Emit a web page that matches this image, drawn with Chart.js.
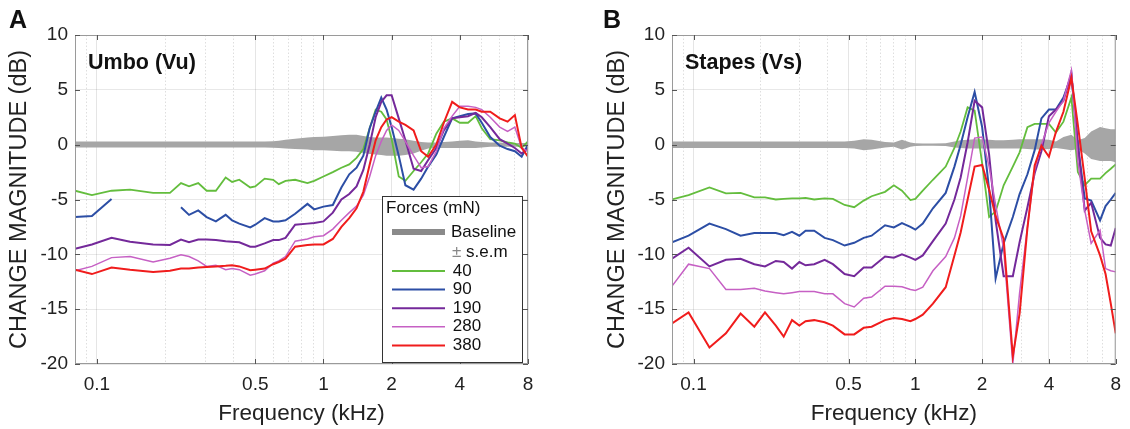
<!DOCTYPE html>
<html>
<head>
<meta charset="utf-8">
<script src="https://cdn.jsdelivr.net/npm/chart.js@4.4.1/dist/chart.umd.min.js"></script>
<style>
  html, body { margin: 0; padding: 0; background: #fff; }
  body { width: 1130px; height: 429px; position: relative; overflow: hidden; }
  .panel { position: absolute; top: 0; }
  #panelA { left: 0; }
  #panelB { left: 560px; }
</style>
</head>
<body>
<div class="panel" id="panelA"><canvas id="chartA" width="560" height="429"></canvas></div>
<div class="panel" id="panelB"><canvas id="chartB" width="570" height="429"></canvas></div>
<script>
// ---- data (kHz / dB) ----
const forceLabels = ['40', '90', '190', '280', '380'];
const freqTicks = [0.1, 0.5, 1, 2, 4, 8];
const freqGrid = [0.09, 0.1, 0.2, 0.3, 0.4, 0.5, 0.6, 0.7, 0.8, 0.9, 1, 2, 3, 4, 5, 6, 7, 8];
const dbTicks = [-20, -15, -10, -5, 0, 5, 10];

// Umbo (Vu)
const freqA = [0.08, 0.095, 0.116, 0.14, 0.177, 0.21, 0.235, 0.255, 0.28, 0.305, 0.335, 0.37, 0.395, 0.425, 0.475, 0.5, 0.55, 0.6, 0.635, 0.68, 0.75, 0.85, 0.91, 1.0, 1.1, 1.2, 1.3, 1.4, 1.5, 1.6, 1.7, 1.8, 1.9, 2.0, 2.15, 2.3, 2.5, 2.7, 2.9, 3.15, 3.4, 3.7, 4.0, 4.35, 4.7, 5.0, 5.45, 6.0, 6.5, 7.0, 7.5, 8.0];
const umbo40 = [-4.2, -4.6, -4.2, -4.1, -4.4, -4.4, -3.5, -3.8, -3.5, -4.2, -4.2, -3.0, -3.4, -3.2, -3.9, -3.8, -3.1, -3.2, -3.6, -3.3, -3.2, -3.5, -3.3, -2.9, -2.5, -2.1, -1.8, -1.2, -0.4, 1.5, 3.2, 3.0, 2.3, 0.5, -2.9, -3.3, -2.4, -1.6, -0.8, 1.0, 2.1, 2.4, 2.0, 2.0, 2.6, 1.5, 0.5, 0.4, 0.2, 0.1, -0.3, 0.3];
const umbo90 = [-6.6, -6.5, -4.95, null, null, null, -5.7, -6.4, -6.0, -6.6, -7.0, -6.4, -6.9, -7.2, -7.55, -7.3, -6.7, -7.0, -7.0, -6.9, -6.3, -5.4, -5.9, -5.65, -5.5, -3.9, -2.7, -2.1, -1.0, 1.5, 3.0, 4.3, 3.2, 1.6, -1.0, -3.7, -4.1, -3.1, -2.0, -0.9, 0.7, 2.4, 2.6, 2.8, 2.85, 2.0, 0.7, -0.1, -0.4, -0.6, -1.1, 0.0];
const umbo190 = [-9.5, -9.1, -8.5, -8.85, -9.1, -9.15, -8.65, -8.9, -8.65, -8.65, -8.7, -8.8, -8.85, -8.9, -9.3, -9.3, -9.0, -8.7, -8.7, -8.5, -7.3, -7.2, -7.15, -7.0, -6.2, -5.0, -4.5, -3.8, -2.3, 0.0, 2.5, 3.9, 4.5, 4.5, 2.4, 0.4, -2.2, -2.4, -1.4, -0.3, 1.3, 2.4, 2.5, 2.6, 2.9, 2.5, 1.6, 0.5, 0.1, -0.3, -0.8, -0.4];
const umbo280 = [-11.5, -11.1, -10.3, -10.2, -10.7, -10.35, -10.05, -10.2, -10.6, -11.1, -11.0, -11.4, -11.3, -11.4, -11.9, -11.8, -11.5, -10.8, -10.6, -10.2, -8.8, -8.6, -8.4, -8.3, -7.7, -6.9, -6.2, -5.6, -4.6, -2.9, -1.0, 0.3, 1.3, 1.8, 1.3, 0.3, -1.0, -2.1, -2.0, -0.6, 1.5, 2.6, 3.5, 3.5, 3.4, 3.2, 2.5, 1.6, 1.2, 1.6, -0.3, -0.6];
const umbo380 = [-11.4, -11.8, -11.2, -11.4, -11.6, -11.5, -11.3, -11.3, -11.2, -11.15, -11.1, -11.05, -11.0, -11.1, -11.45, -11.4, -11.3, -10.9, -10.7, -10.4, -9.3, -9.15, -9.1, -9.1, -8.6, -7.5, -6.7, -5.8, -4.3, -1.8, 0.4, 1.6, 2.3, 2.5, 2.1, 1.8, 1.3, -0.6, -1.1, 0.0, 2.0, 3.9, 3.4, 3.2, 3.2, 3.0, 3.0, 2.4, 2.1, 2.7, -0.3, -1.1];
const umboSemHi = [0.28, 0.28, 0.28, 0.28, 0.28, 0.28, 0.28, 0.28, 0.28, 0.28, 0.28, 0.28, 0.28, 0.28, 0.28, 0.28, 0.3, 0.32, 0.35, 0.45, 0.55, 0.65, 0.7, 0.72, 0.78, 0.85, 0.9, 0.9, 0.8, 0.7, 0.65, 0.65, 0.65, 0.6, 0.55, 0.5, 0.35, 0.25, 0.2, 0.2, 0.25, 0.3, 0.35, 0.4, 0.3, 0.25, 0.2, 0.2, 0.15, 0.15, 0.15, 0.15];
const umboSemLo = [-0.25, -0.25, -0.25, -0.25, -0.25, -0.25, -0.25, -0.25, -0.25, -0.25, -0.25, -0.25, -0.25, -0.25, -0.25, -0.25, -0.25, -0.28, -0.3, -0.35, -0.4, -0.45, -0.5, -0.5, -0.55, -0.6, -0.6, -0.65, -0.75, -0.85, -0.9, -0.95, -1.0, -1.0, -1.0, -0.95, -0.8, -0.55, -0.35, -0.3, -0.3, -0.3, -0.3, -0.3, -0.3, -0.25, -0.2, -0.2, -0.2, -0.2, -0.2, -0.2];

// Stapes (Vs)
const freqB = [0.08, 0.095, 0.118, 0.14, 0.163, 0.188, 0.21, 0.235, 0.255, 0.278, 0.3, 0.32, 0.35, 0.39, 0.425, 0.48, 0.53, 0.585, 0.635, 0.73, 0.8, 0.87, 0.95, 1.0, 1.08, 1.2, 1.37, 1.5, 1.6, 1.72, 1.85, 2.0, 2.15, 2.3, 2.5, 2.75, 2.95, 3.2, 3.45, 3.7, 4.0, 4.3, 4.65, 5.05, 5.4, 5.8, 6.2, 6.8, 7.2, 7.6, 8.0];
const stapes40 = [-5.0, -4.6, -3.9, -4.45, -4.4, -4.8, -4.8, -5.0, -4.95, -4.9, -4.9, -4.85, -5.0, -4.9, -4.95, -5.5, -5.7, -5.1, -4.7, -4.3, -3.7, -4.2, -5.05, -4.95, -4.2, -3.2, -2.0, -0.3, 1.2, 3.4, 3.1, -1.7, -6.6, -6.1, -3.7, -2.0, -0.7, 1.6, 1.9, 1.9, 1.9, 1.1, 2.1, 4.3, -2.5, -3.7, -3.1, -3.1, -2.6, -2.2, -1.8];
const stapes90 = [-8.9, -8.3, -7.2, -7.7, -8.3, -8.05, -8.05, -8.05, -8.25, -7.95, -8.3, -7.85, -7.85, -8.5, -8.7, -9.2, -8.95, -8.5, -8.3, -7.35, -7.55, -7.15, -7.5, -7.75, -7.2, -5.8, -4.4, -2.0, 0.0, 2.5, 4.8, 1.6, -4.1, -12.2, -9.0, -6.6, -4.5, -2.7, -0.5, 2.4, 3.2, 3.2, 4.3, 6.3, 0.0, -4.9, -5.1, -6.9, -5.6, -5.0, -4.4];
const stapes190 = [-10.4, -9.4, -11.1, -10.5, -10.4, -10.9, -11.1, -10.6, -10.7, -11.3, -10.7, -11.0, -10.9, -10.5, -10.9, -11.8, -12.0, -11.2, -11.2, -10.2, -10.3, -10.0, -10.3, -10.5, -10.1, -8.8, -7.2, -5.0, -3.0, 0.2, 4.0, 3.4, -0.9, -6.9, -12.0, -12.0, -8.9, -5.7, -2.6, -0.6, 2.6, 3.2, 4.0, 6.5, 0.0, -6.0, -5.3, -8.5, -9.1, -9.2, -7.6];
const stapes280 = [-12.9, -10.9, -11.3, -13.2, -13.2, -13.1, -13.35, -13.5, -13.6, -13.5, -13.4, -13.4, -13.4, -13.6, -13.6, -14.5, -14.8, -14.0, -13.9, -12.9, -12.9, -12.95, -13.2, -13.3, -13.0, -11.5, -10.2, -8.5, -6.5, -3.0, 0.6, 0.7, -2.0, -5.5, -9.5, -20.0, -13.5, -7.5, -2.3, 0.0, 2.0, 3.0, 4.0, 6.8, -1.5, -6.0, -9.0, -7.8, -11.3, -11.5, -11.6];
const stapes380 = [-16.3, -15.3, -18.5, -17.2, -15.4, -16.6, -15.3, -16.5, -17.5, -16.0, -16.5, -16.1, -16.0, -16.2, -16.5, -17.3, -17.3, -16.7, -16.6, -16.0, -15.8, -15.9, -16.1, -15.9, -15.5, -14.5, -13.0, -10.1, -8.0, -5.0, -2.0, -1.85, -4.1, -6.5, -8.6, -19.3, -15.4, -7.6, -1.9, -0.1, -1.1, 1.15, 3.0, 6.1, 1.8, -3.1, -7.9, -10.1, -11.8, -14.5, -17.2];
const stapesSemHi = [0.3, 0.3, 0.3, 0.3, 0.3, 0.3, 0.3, 0.3, 0.3, 0.3, 0.3, 0.3, 0.3, 0.3, 0.3, 0.3, 0.35, 0.5, 0.45, 0.25, 0.2, 0.45, 0.2, 0.12, 0.1, 0.1, 0.12, 0.3, 0.4, 0.45, 0.5, 0.5, 0.45, 0.4, 0.4, 0.45, 0.5, 0.5, 0.5, 0.5, 0.45, 0.3, 0.7, 0.9, 0.4, 0.6, 1.2, 1.6, 1.5, 1.4, 1.4];
const stapesSemLo = [-0.3, -0.3, -0.3, -0.3, -0.3, -0.3, -0.3, -0.3, -0.3, -0.3, -0.3, -0.3, -0.3, -0.3, -0.3, -0.3, -0.35, -0.5, -0.45, -0.25, -0.2, -0.45, -0.2, -0.12, -0.1, -0.1, -0.12, -0.25, -0.3, -0.35, -0.35, -0.35, -0.35, -0.35, -0.35, -0.35, -0.35, -0.4, -0.45, -0.45, -0.4, -0.3, -0.4, -0.5, -0.4, -0.8, -1.3, -1.5, -1.5, -1.5, -1.6];

// ---- styles ----
const FONT = '"Liberation Sans", Arial, Helvetica, sans-serif';
const TEXT = '#222';
const BAND = '#a6a6a6';
const forceColors = ['#63bd3d', '#2c4ea5', '#74299a', '#c660c4', '#f01c1c'];
const forceWidths = [1.8, 2, 2, 1.5, 2];

Chart.defaults.font.family = FONT;

const toPoints = (freqs, vals) => freqs.map((f, i) => ({ x: f, y: vals[i] }));

// box, inward ticks, panel letter and panel title
const panelDecor = {
    id: 'panelDecor',
    afterDraw(chart, args, o) {
        const { ctx, chartArea: a, scales: { x, y } } = chart;
        ctx.save();
        ctx.strokeStyle = '#9a9a9a';
        ctx.lineWidth = 1;
        ctx.strokeRect(a.left + 0.5, a.top + 0.5, a.right - a.left - 1, a.bottom - a.top - 1);

        ctx.strokeStyle = '#555';
        ctx.beginPath();
        freqTicks.forEach((v) => {
            const px = Math.round(x.getPixelForValue(v)) + 0.5;
            ctx.moveTo(px, a.bottom); ctx.lineTo(px, a.bottom - 5);
            ctx.moveTo(px, a.top); ctx.lineTo(px, a.top + 5);
        });
        dbTicks.forEach((v) => {
            const py = Math.round(y.getPixelForValue(v)) + 0.5;
            ctx.moveTo(a.left, py); ctx.lineTo(a.left + 5, py);
            ctx.moveTo(a.right, py); ctx.lineTo(a.right - 5, py);
        });
        ctx.stroke();

        ctx.fillStyle = '#111';
        ctx.textBaseline = 'alphabetic';
        ctx.textAlign = 'left';
        ctx.font = 'bold 25px ' + FONT;
        ctx.fillText(o.letter, o.letterX, 28);
        ctx.font = 'bold 21.5px ' + FONT;
        ctx.fillText(o.title, a.left + 13, a.top + 34);
        ctx.restore();
    }
};

// legend box drawn inside panel A
const forceLegend = {
    id: 'forceLegend',
    afterDraw(chart, args, o) {
        if (!o.show) return;
        const { ctx, chartArea: a } = chart;
        const w = 140, h = 166;
        const x0 = a.right - 146, y0 = a.bottom - 168;
        ctx.save();
        ctx.fillStyle = '#fff';
        ctx.fillRect(x0, y0, w, h);
        ctx.strokeStyle = '#333';
        ctx.lineWidth = 1;
        ctx.strokeRect(x0 + 0.5, y0 + 0.5, w, h);

        ctx.font = '17px ' + FONT;
        ctx.textBaseline = 'middle';
        ctx.textAlign = 'left';
        ctx.fillStyle = '#111';
        ctx.fillText('Forces (mN)', x0 + 4, y0 + 12);

        ctx.strokeStyle = '#8a8a8a';
        ctx.lineWidth = 6;
        ctx.beginPath();
        ctx.moveTo(x0 + 10, y0 + 36); ctx.lineTo(x0 + 63, y0 + 36);
        ctx.stroke();
        ctx.fillText('Baseline', x0 + 69, y0 + 36);
        ctx.fillStyle = '#888';
        ctx.fillText('±', x0 + 70, y0 + 56);
        ctx.fillStyle = '#111';
        ctx.fillText('s.e.m', x0 + 84, y0 + 56);

        const lines = chart.data.datasets.filter((d) => forceLabels.includes(d.label));
        lines.forEach((d, i) => {
            const yy = y0 + 75 + i * 18.6;
            ctx.strokeStyle = d.borderColor;
            ctx.lineWidth = d.borderWidth;
            ctx.beginPath();
            ctx.moveTo(x0 + 10, yy); ctx.lineTo(x0 + 63, yy);
            ctx.stroke();
            ctx.fillStyle = '#111';
            ctx.fillText(' ' + d.label, x0 + 66, yy);
        });
        ctx.restore();
    }
};

Chart.register(panelDecor, forceLegend);

function buildPanel(canvasId, p) {
    const datasets = [
        { label: 'Baseline', data: toPoints(p.freqs, p.semHi), borderColor: 'rgba(0,0,0,0)', borderWidth: 0,
          backgroundColor: BAND, pointRadius: 0, fill: '+1', order: 10 },
        { label: 'Baseline low', data: toPoints(p.freqs, p.semLo), borderColor: 'rgba(0,0,0,0)', borderWidth: 0,
          pointRadius: 0, fill: false, order: 10 }
    ];
    p.series.forEach((vals, i) => {
        datasets.push({
            label: forceLabels[i],
            data: toPoints(p.freqs, vals),
            borderColor: forceColors[i],
            borderWidth: forceWidths[i],
            pointRadius: 0,
            fill: false,
            tension: 0,
            spanGaps: false,
            order: 5 - i
        });
    });

    return new Chart(canvasId, {
        type: 'line',
        data: { datasets },
        options: {
            responsive: false,
            animation: false,
            events: [],
            layout: { padding: { left: 0, right: p.padRight, top: 35, bottom: 0 } },
            plugins: {
                legend: { display: false },
                tooltip: { enabled: false },
                panelDecor: { letter: p.letter, letterX: p.letterX, title: p.title },
                forceLegend: { show: p.legend }
            },
            scales: {
                x: {
                    type: 'logarithmic',
                    min: 0.08,
                    max: 8,
                    afterBuildTicks: (s) => { s.ticks = freqGrid.map((v) => ({ value: v })); },
                    afterFit: (s) => { s.height = 65; },
                    grid: {
                        drawTicks: false,
                        color: (c) => (c.tick && freqTicks.includes(c.tick.value)) ? 'rgba(0,0,0,0.10)' : 'rgba(0,0,0,0.13)'
                    },
                    border: {
                        display: false,
                        dash: (c) => (c.tick && !freqTicks.includes(c.tick.value)) ? [1.5, 2] : []
                    },
                    ticks: {
                        autoSkip: false,
                        maxRotation: 0,
                        padding: 9,
                        color: TEXT,
                        font: { size: 19 },
                        callback: (v) => freqTicks.includes(v) ? String(v) : ''
                    },
                    title: {
                        display: true,
                        text: 'Frequency (kHz)',
                        color: TEXT,
                        font: { size: 22.5 },
                        padding: { top: 0, bottom: 2 }
                    }
                },
                y: {
                    min: -20,
                    max: 10,
                    afterBuildTicks: (s) => { s.ticks = dbTicks.map((v) => ({ value: v })); },
                    afterFit: (s) => { s.width = p.yWidth; },
                    grid: { drawTicks: false, color: 'rgba(0,0,0,0.09)' },
                    border: { display: false },
                    ticks: { padding: 7, color: TEXT, font: { size: 19 } },
                    title: {
                        display: true,
                        text: 'CHANGE MAGNITUDE (dB)',
                        color: TEXT,
                        font: { size: 23.5 },
                        padding: { top: p.yTitlePad, bottom: 0 }
                    }
                }
            }
        }
    });
}

buildPanel('chartA', {
    freqs: freqA, semHi: umboSemHi, semLo: umboSemLo,
    series: [umbo40, umbo90, umbo190, umbo280, umbo380],
    letter: 'A', letterX: 9, title: 'Umbo (Vu)', legend: true,
    yWidth: 75, padRight: 32, yTitlePad: 5.9
});

buildPanel('chartB', {
    freqs: freqB, semHi: stapesSemHi, semLo: stapesSemLo,
    series: [stapes40, stapes90, stapes190, stapes280, stapes380],
    letter: 'B', letterX: 43, title: 'Stapes (Vs)', legend: false,
    yWidth: 112, padRight: 7, yTitlePad: 43.9
});
</script>
</body>
</html>
